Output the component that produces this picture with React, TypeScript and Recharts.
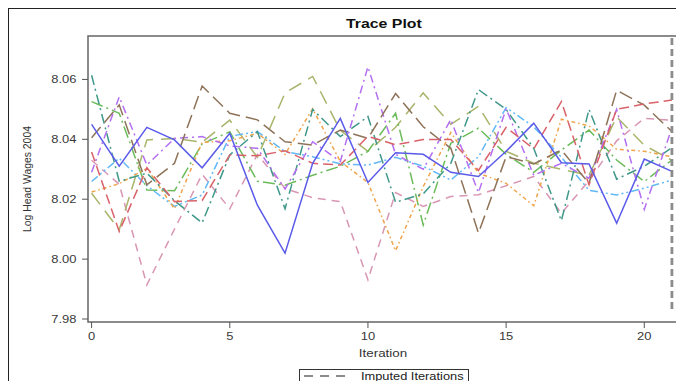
import { LineChart, Line, XAxis, YAxis, ReferenceArea, ReferenceLine } from 'recharts'

const FONT = '"Liberation Sans", Arial, sans-serif'
const STRETCH = 1.27

const ITERATIONS = [0, 1, 2, 3, 4, 5, 6, 7, 8, 9, 10, 11, 12, 13, 14, 15, 16, 17, 18, 19, 20, 21]
const X_TICKS = [0, 5, 10, 15, 20]
const Y_TICKS = [7.98, 8.0, 8.02, 8.04, 8.06]

const BLUE = [8.045, 8.031, 8.044, 8.0398, 8.0305, 8.042, 8.018, 8.002, 8.032, 8.047, 8.0256, 8.0355, 8.035, 8.029, 8.0276, 8.036, 8.0454, 8.0322, 8.0318, 8.012, 8.0334, 8.0293]
const RED = [8.0358, 8.0092, 8.0305, 8.0192, 8.0196, 8.0348, 8.0345, 8.0362, 8.032, 8.0314, 8.041, 8.0382, 8.0399, 8.0399, 8.0296, 8.044, 8.0368, 8.0526, 8.0248, 8.05, 8.0518, 8.0531]
const TEAL = [8.0614, 8.026, 8.0287, 8.0195, 8.0121, 8.0348, 8.0426, 8.0168, 8.05, 8.0409, 8.0476, 8.019, 8.0218, 8.032, 8.0566, 8.05, 8.037, 8.0128, 8.05, 8.0267, 8.031, 8.0372]
const BROWN = [8.0405, 8.0515, 8.0248, 8.032, 8.0578, 8.0487, 8.0465, 8.0392, 8.0381, 8.0431, 8.0403, 8.0553, 8.0442, 8.037, 8.0087, 8.0342, 8.0318, 8.0364, 8.0253, 8.0564, 8.0514, 8.0426]
const PURPLE = [8.029, 8.0542, 8.0314, 8.0403, 8.0409, 8.0378, 8.037, 8.0234, 8.0392, 8.0326, 8.0642, 8.035, 8.03, 8.0466, 8.0222, 8.0502, 8.028, 8.032, 8.027, 8.05, 8.0166, 8.0438]
const OLIVE = [8.022, 8.0098, 8.0398, 8.0403, 8.039, 8.0464, 8.034, 8.0555, 8.061, 8.043, 8.036, 8.044, 8.0555, 8.045, 8.051, 8.036, 8.032, 8.03, 8.028, 8.0475, 8.038, 8.033]
const LIGHT_BLUE = [8.0259, 8.0337, 8.0245, 8.0176, 8.0214, 8.041, 8.0426, 8.0359, 8.0342, 8.0318, 8.0314, 8.034, 8.031, 8.0264, 8.0342, 8.0506, 8.0442, 8.034, 8.023, 8.0214, 8.0237, 8.0264]
const PINK = [8.033, 8.025, 7.9914, 8.01, 8.0283, 8.0168, 8.035, 8.0236, 8.0205, 8.0192, 7.9931, 8.0222, 8.0176, 8.0209, 8.0215, 8.0245, 8.0276, 8.0153, 8.0262, 8.0395, 8.047, 8.0464]
const ORANGE = [8.0224, 8.0252, 8.0303, 8.0168, 8.039, 8.0395, 8.042, 8.035, 8.0502, 8.0326, 8.0256, 8.0028, 8.0242, 8.0423, 8.0287, 8.0253, 8.0178, 8.0467, 8.0445, 8.0367, 8.036, 8.0342]
const GREEN = [8.0526, 8.0487, 8.0231, 8.0228, 8.0385, 8.0425, 8.026, 8.0247, 8.028, 8.031, 8.036, 8.0487, 8.0114, 8.0387, 8.0437, 8.035, 8.029, 8.0364, 8.0431, 8.0331, 8.0259, 8.0331]

const SERIES = [
  { key: 'pink', values: PINK, color: '#d896b4', dash: '8 6' },
  { key: 'olive', values: OLIVE, color: '#a8b56b', dash: '14 8' },
  { key: 'green', values: GREEN, color: '#6cbb5a', dash: '12 4 2 4' },
  { key: 'lightBlue', values: LIGHT_BLUE, color: '#63b9f7', dash: '8 3 2 3 2 3' },
  { key: 'orange', values: ORANGE, color: '#f0a348', dash: '4 3 1.5 3' },
  { key: 'teal', values: TEAL, color: '#3f988a', dash: '10 4 2 4' },
  { key: 'purple', values: PURPLE, color: '#b46ef2', dash: '8 4 2 4' },
  { key: 'brown', values: BROWN, color: '#8e7359', dash: '14 6' },
  { key: 'red', values: RED, color: '#d9626a', dash: '10 5' },
  { key: 'blue', values: BLUE, color: '#5b5bea', dash: undefined },
]

const data = ITERATIONS.map((it, i) => {
  const row: Record<string, number> = { iteration: it }
  SERIES.forEach((s) => { row[s.key] = s.values[i] })
  return row
})

const X_DOMAIN = [-0.13, 21.22]
const Y_DOMAIN = [7.979, 8.0745]

function YTick(props: any) {
  const { x, y, payload } = props
  return (
    <text transform={`translate(${x},${y}) scale(${STRETCH},1)`} textAnchor="end" dominantBaseline="central"
      fontSize={10.2} fill="#3a3a3a" fontFamily={FONT}>
      {Number(payload.value).toFixed(2)}
    </text>
  )
}

function XTick(props: any) {
  const { x, y, payload } = props
  return (
    <text transform={`translate(${x},${y}) scale(${STRETCH},1)`} textAnchor="middle" dy="0.71em"
      fontSize={10.2} fill="#3a3a3a" fontFamily={FONT}>
      {payload.value}
    </text>
  )
}

function XLabel(props: any) {
  const { viewBox } = props
  const cx = viewBox.x + viewBox.width / 2
  return (
    <text transform={`translate(${cx},${viewBox.y + 35}) scale(1.22,1)`} textAnchor="middle"
      fontSize={11} fill="#333" fontFamily={FONT}>
      Iteration
    </text>
  )
}

function YLabel(props: any) {
  const { viewBox } = props
  const cy = viewBox.y + viewBox.height / 2
  return (
    <text transform={`translate(30.5,${cy}) rotate(-90)`} textAnchor="middle"
      fontSize={10.4} fill="#333" fontFamily={FONT}>
      Log Head Wages 2004
    </text>
  )
}

export default function App() {
  return (
    <div style={{ position: 'relative', width: 684, height: 389, margin: -8, overflow: 'hidden', background: '#fff', fontFamily: FONT }}>
      <div style={{ position: 'absolute', left: 8, top: 8, width: 700, height: 400, borderLeft: '1.5px solid #222', borderTop: '1.5px solid #222' }} />

      <div style={{ position: 'absolute', left: 0, top: 16.5, width: 768, textAlign: 'center', fontSize: 12.5, lineHeight: '15px', fontWeight: 'bold', color: '#111' }}>
        <span style={{ display: 'inline-block', transform: `scaleX(${STRETCH})` }}>Trace Plot</span>
      </div>

      <div style={{ position: 'absolute', left: 0, top: 0 }}>
        <LineChart width={684} height={389} data={data} margin={{ top: 36, right: 6, bottom: 37, left: 48 }}>
          <XAxis dataKey="iteration" type="number" domain={X_DOMAIN} ticks={X_TICKS} allowDataOverflow
            axisLine={false} tickLine={{ stroke: '#555' }} tickSize={6} tickMargin={5} height={30}
            tick={<XTick />} label={<XLabel />} />
          <YAxis type="number" domain={Y_DOMAIN} ticks={Y_TICKS} allowDataOverflow
            axisLine={false} tickLine={{ stroke: '#555' }} tickSize={6} tickMargin={5.5} width={40}
            tick={<YTick />} label={<YLabel />} />
          <ReferenceArea x1={X_DOMAIN[0]} x2={X_DOMAIN[1]} y1={Y_DOMAIN[0]} y2={Y_DOMAIN[1]}
            fill="none" stroke="#666" strokeWidth={1.5} />
          {SERIES.map((s) => (
            <Line key={s.key} type="linear" dataKey={s.key} stroke={s.color} strokeWidth={1.5}
              strokeDasharray={s.dash} dot={false} activeDot={false} isAnimationActive={false} />
          ))}
          <ReferenceLine segment={[{ x: 21, y: 8.0738 }, { x: 21, y: 7.9823 }]} stroke="#8c8c8c"
            strokeWidth={2.8} strokeDasharray="7 4" />
        </LineChart>
      </div>

      <div style={{ position: 'absolute', left: 298.5, top: 369, width: 170, height: 14, border: '1px solid #333', boxSizing: 'border-box' }}>
        <svg width={50} height={12} style={{ position: 'absolute', left: 3, top: 0 }}>
          <line x1={1} y1={6} x2={45} y2={6} stroke="#8c8c8c" strokeWidth={2} strokeDasharray="9 7" />
        </svg>
        <div style={{ position: 'absolute', left: 61, top: 0, fontSize: 10.5, lineHeight: '12px', color: '#222', whiteSpace: 'nowrap', transformOrigin: 'left center', transform: 'scaleX(1.22)' }}>
          Imputed Iterations
        </div>
      </div>
    </div>
  )
}
